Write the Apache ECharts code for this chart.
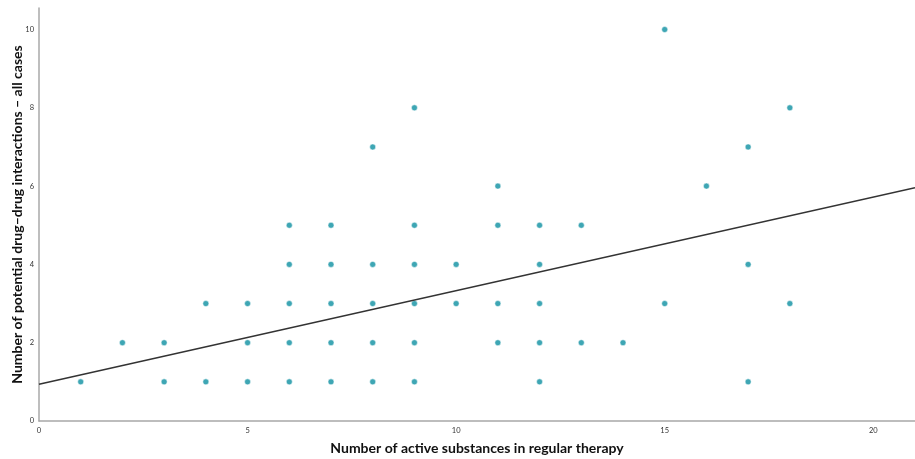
<!DOCTYPE html>
<html><head><meta charset="utf-8">
<script src="https://cdn.jsdelivr.net/npm/echarts@6/dist/echarts.min.js"></script>
<style>html,body{margin:0;padding:0;background:#fff}#c{width:915px;height:459px}</style>
</head><body><div id="c"></div>
<script>
// Number of active substances (x) and DDI counts (y)
var xValues = [1, 2, 3, 3, 4, 4, 5, 5, 5, 6, 6, 6, 6, 6, 7, 7, 7, 7, 7, 8, 8, 8, 8, 8, 9, 9, 9, 9, 9, 9, 10, 10, 11, 11, 11, 11, 12, 12, 12, 12, 12, 13, 13, 14, 15, 15, 16, 17, 17, 17, 18, 18];
var yValues = [1, 2, 1, 2, 1, 3, 1, 2, 3, 1, 2, 3, 4, 5, 1, 2, 3, 4, 5, 1, 2, 3, 4, 7, 1, 2, 3, 4, 5, 8, 3, 4, 2, 3, 5, 6, 1, 2, 3, 4, 5, 2, 5, 2, 3, 10, 6, 1, 4, 7, 3, 8];
// Fit line endpoints
var fitX = [0, 21];
var fitY = [0.94, 5.96];
var xTicks = [0, 5, 10, 15, 20];
var yTicks = [0, 2, 4, 6, 8, 10];

var pts = xValues.map(function (x, i) { return [x, yValues[i]]; });
var fit = fitX.map(function (x, i) { return [x, fitY[i]]; });

var chart = echarts.init(document.getElementById('c'), null, {renderer: 'canvas'});
var font = 'Lato, "Open Sans", sans-serif';
chart.setOption({
  animation: false,
  grid: {left: 39, right: 0, top: 8, bottom: 38, containLabel: false, outerBoundsMode: 'none'},
  xAxis: {
    type: 'value', min: 0, max: 21, interval: 5,
    name: 'Number of active substances in regular therapy',
    nameLocation: 'middle', nameGap: 20, nameMoveOverlap: false,
    nameTextStyle: {fontFamily: font, fontWeight: 'bold', fontSize: 14, color: '#111'},
    axisLine: {show: true, lineStyle: {color: '#a8a8a8', width: 1.5}},
    axisTick: {show: false},
    splitLine: {show: false},
    axisLabel: {fontSize: 7.5, color: '#333', margin: 6, fontFamily: font,
      showMaxLabel: false,
      formatter: function (v) { return xTicks.indexOf(v) >= 0 ? String(v) : ''; }}
  },
  yAxis: {
    type: 'value', min: 0, max: 10.55, interval: 2,
    name: 'Number of potential drug–drug interactions – all cases',
    nameLocation: 'middle', nameGap: 15, nameMoveOverlap: false,
    nameTextStyle: {fontFamily: font, fontWeight: 'bold', fontSize: 14, color: '#111'},
    axisLine: {show: true, lineStyle: {color: '#a8a8a8', width: 1.5}},
    axisTick: {show: false},
    splitLine: {show: false},
    axisLabel: {fontSize: 7.5, color: '#333', margin: 5, fontFamily: font,
      showMaxLabel: false,
      formatter: function (v) { return yTicks.indexOf(v) >= 0 ? String(v) : ''; }}
  },
  series: [
    {
      type: 'line', data: fit, symbol: 'none', silent: true,
      lineStyle: {color: '#333', width: 1.5}, z: 3
    },
    {
      type: 'scatter', data: pts, symbolSize: 6,
      itemStyle: {color: '#3ea6b4', borderColor: '#ffffff', borderWidth: 0.5, opacity: 1}, z: 2
    }
  ]
});
</script></body></html>
